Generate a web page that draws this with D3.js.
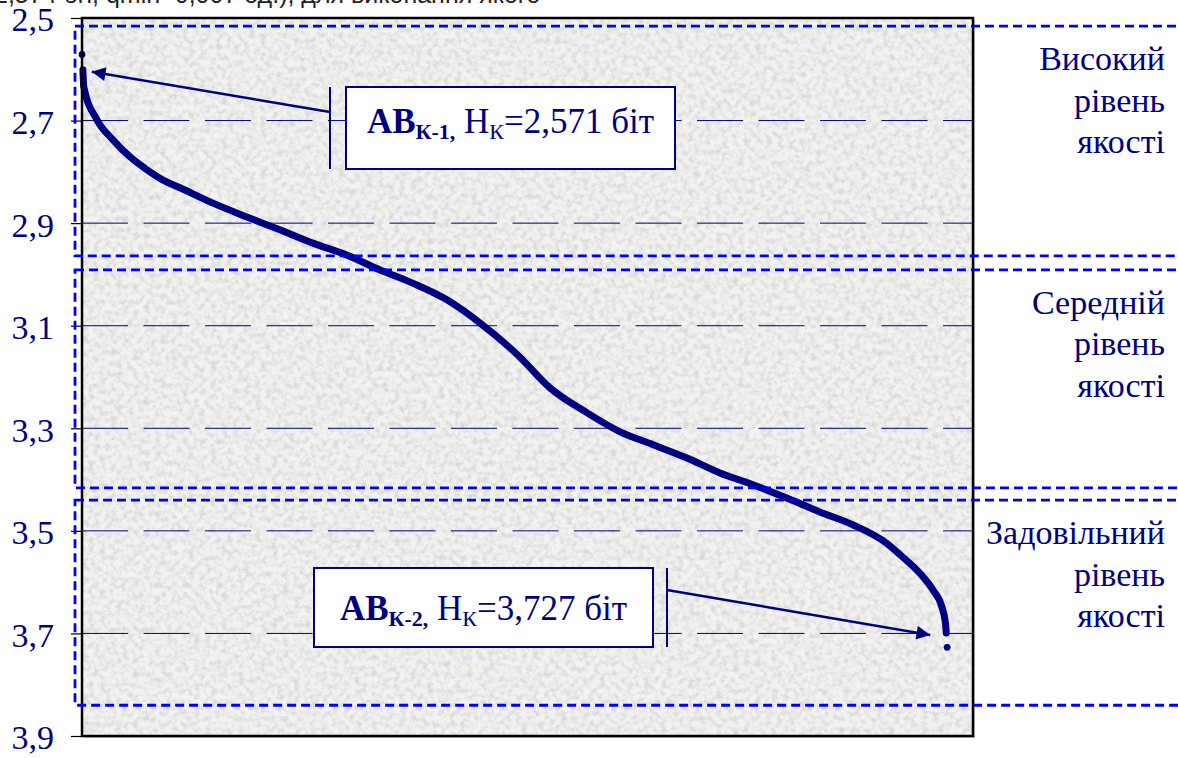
<!doctype html>
<html lang="uk">
<head>
    <meta charset="utf-8">
    <title>Рівні якості</title>
    <script src="https://cdnjs.cloudflare.com/ajax/libs/d3/7.8.5/d3.min.js" type="text/JavaScript"></script>
    <style>
        body { margin: 0; background: #fff; }
        svg { display: block; }
    </style>
</head>
<body>
<div id="chart"></div>
<script>

    // curve: rank (0..1000 across the plot) and value, біт
    const ranks = [0, 1, 2, 17, 35, 54, 73, 91, 110, 147, 185, 222, 259, 297, 334, 371, 410, 447, 489, 525,
        567, 604, 641, 679, 716, 753, 791, 828, 865, 903, 921, 940, 955, 965, 969, 970, 971];
    const values = [2.571, 2.601, 2.634, 2.699, 2.738, 2.771, 2.796, 2.816, 2.831, 2.861, 2.888, 2.913, 2.939, 2.962, 2.991, 3.017, 3.050, 3.095, 3.157, 3.221,
        3.270, 3.307, 3.332, 3.358, 3.387, 3.410, 3.436, 3.463, 3.488, 3.524, 3.551, 3.582, 3.615, 3.648, 3.679, 3.699, 3.727];

    const yTicks = [2.5, 2.7, 2.9, 3.1, 3.3, 3.5, 3.7, 3.9];

    // quality bands (dashed blue boxes) and their names
    const levelBounds = [[2.516, 2.964], [2.991, 3.416], [3.440, 3.840]];
    const levelNames = [["Високий", "рівень", "якості"], ["Середній", "рівень", "якості"], ["Задовільний", "рівень", "якості"]];

    // callouts: label parts and the point the arrow goes to
    const calloutSub = ["К-1,", "К-2,"];
    const calloutValue = ["=2,571 біт", "=3,727 біт"];
    const calloutTarget = [[11, 2.605], [952, 3.703]];

    const width = 1178, height = 758;
    const navy = "#000080";
    const serif = "Liberation Serif";

    const x = d3.scaleLinear().domain([0, 1000]).range([82, 973]);
    const y = d3.scaleLinear().domain([2.5, 3.9]).range([18, 736]);

    const comma = d3.formatLocale({decimal: ",", thousands: " ", grouping: [3], currency: ["", ""]}).format(".1f");

    const svg = d3.select("#chart").append("svg")
        .attr("width", width)
        .attr("height", height);

    const defs = svg.append("defs");
    const noise = defs.append("filter").attr("id", "noise")
        .attr("x", 0).attr("y", 0).attr("width", "100%").attr("height", "100%");
    noise.append("feTurbulence")
        .attr("type", "fractalNoise")
        .attr("baseFrequency", 0.18)
        .attr("numOctaves", 4)
        .attr("seed", 7);
    noise.append("feColorMatrix")
        .attr("type", "matrix")
        .attr("values", "0 0 0 0 0.5  0 0 0 0 0.5  0 0 0 0 0.49  2.6 0 0 0 -1.05");

    defs.append("marker")
        .attr("id", "arrow")
        .attr("viewBox", "0 0 10 10")
        .attr("refX", 10).attr("refY", 5)
        .attr("markerWidth", 6.5).attr("markerHeight", 5.5)
        .attr("markerUnits", "strokeWidth")
        .attr("orient", "auto")
        .append("path")
        .attr("d", "M0,0L10,5L0,10z")
        .attr("fill", navy);

    // cut-off caption line at the very top
    svg.append("text")
        .attr("x", -6).attr("y", 3)
        .attr("font-family", "Liberation Sans")
        .attr("font-size", 25)
        .attr("fill", "#222")
        .text("2,574 біт, qmin=0,007 од.), для виконання якого");

    const x0 = x.range()[0], x1 = x.range()[1];
    const y0 = y.range()[0], y1 = y.range()[1];

    // plot area: shadow, paper, noise
    svg.append("rect")
        .attr("x", x0 + 2).attr("y", y0 + 2)
        .attr("width", x1 - x0).attr("height", y1 - y0)
        .attr("fill", "#c8c8c8");
    svg.append("rect")
        .attr("x", x0).attr("y", y0)
        .attr("width", x1 - x0).attr("height", y1 - y0)
        .attr("fill", "#f2f2f0");
    svg.append("rect")
        .attr("x", x0).attr("y", y0)
        .attr("width", x1 - x0).attr("height", y1 - y0)
        .attr("filter", "url(#noise)")
        .attr("opacity", 0.45);

    // gridlines
    svg.append("g")
        .selectAll("line")
        .data(yTicks.slice(1, -1))
        .join("line")
        .attr("x1", x0).attr("x2", x1)
        .attr("y1", d => y(d)).attr("y2", d => y(d))
        .attr("stroke", navy)
        .attr("stroke-width", 1)
        .attr("stroke-dasharray", "46,15.5");

    // curve
    const pts = ranks.map((r, i) => [r, values[i]]);
    const line = d3.line()
        .x(d => x(d[0]))
        .y(d => y(d[1]))
        .curve(d3.curveMonotoneX);

    svg.append("path")
        .datum(pts.slice(1, -1))
        .attr("d", line)
        .attr("fill", "none")
        .attr("stroke", navy)
        .attr("stroke-width", 7)
        .attr("stroke-linejoin", "round")
        .attr("stroke-linecap", "round");

    svg.append("g")
        .selectAll("circle")
        .data([pts[0], pts[pts.length - 1]])
        .join("circle")
        .attr("cx", d => x(d[0]))
        .attr("cy", d => y(d[1]))
        .attr("r", 3.4)
        .attr("fill", navy);

    // frame
    svg.append("rect")
        .attr("x", x0).attr("y", y0)
        .attr("width", x1 - x0).attr("height", y1 - y0)
        .attr("fill", "none")
        .attr("stroke", "#000")
        .attr("stroke-width", 2.5);

    // y axis
    const yAxis = svg.append("g")
        .attr("transform", `translate(${x0},0)`)
        .call(d3.axisLeft(y).tickValues(yTicks).tickSize(11).tickPadding(17).tickFormat(comma));
    yAxis.select(".domain").remove();
    yAxis.attr("font-family", serif).attr("font-size", 34);
    yAxis.selectAll(".tick line").attr("stroke", "#000").attr("stroke-width", 1.2);
    yAxis.selectAll(".tick text")
        .attr("fill", navy)
        .attr("dy", "0.38em");

    // quality bands
    const bands = svg.append("g");
    bands.selectAll("rect")
        .data(levelBounds)
        .join("rect")
        .attr("x", 75)
        .attr("y", d => y(d[0]))
        .attr("width", width + 20)
        .attr("height", d => y(d[1]) - y(d[0]))
        .attr("fill", "none")
        .attr("stroke", "#0000ff")
        .attr("stroke-width", 2.8)
        .attr("stroke-dasharray", "9,5");

    const names = svg.append("g")
        .attr("font-family", serif)
        .attr("font-size", 34)
        .attr("fill", navy)
        .attr("text-anchor", "end");
    levelNames.forEach((lines, i) => {
        const top = y(levelBounds[i][0]);
        lines.forEach((t, j) => {
            names.append("text")
                .attr("x", 1165)
                .attr("y", top + 44 + j * 41.5)
                .text(t);
        });
    });

    // callouts
    const boxes = [
        {bx: 346, by: 87, bw: 329, bh: 82, base: 46, bar: 330, from: 25},
        {bx: 314, by: 568, bw: 339, bh: 79, base: 52, bar: 667, from: 22}
    ];
    boxes.forEach((b, i) => {
        const g = svg.append("g");
        g.append("rect")
            .attr("x", b.bx).attr("y", b.by)
            .attr("width", b.bw).attr("height", b.bh)
            .attr("fill", "#fff")
            .attr("stroke", navy)
            .attr("stroke-width", 2);
        const t = g.append("text")
            .attr("x", b.bx + b.bw / 2)
            .attr("y", b.by + b.base)
            .attr("text-anchor", "middle")
            .attr("font-family", serif)
            .attr("font-size", 35)
            .attr("fill", navy);
        t.append("tspan").attr("font-weight", "bold").text("АВ");
        t.append("tspan").attr("font-weight", "bold").attr("font-size", 22).attr("dy", 6).text(calloutSub[i]);
        t.append("tspan").attr("dy", -6).text(" Н");
        t.append("tspan").attr("font-size", 22).attr("dy", 6).text("К");
        t.append("tspan").attr("dy", -6).text(calloutValue[i]);

        g.append("line")
            .attr("x1", b.bar).attr("x2", b.bar)
            .attr("y1", b.by).attr("y2", b.by + b.bh)
            .attr("stroke", navy)
            .attr("stroke-width", 2);
        g.append("line")
            .attr("x1", b.bar).attr("y1", b.by + b.from)
            .attr("x2", x(calloutTarget[i][0]))
            .attr("y2", y(calloutTarget[i][1]))
            .attr("stroke", navy)
            .attr("stroke-width", 2.5)
            .attr("marker-end", "url(#arrow)");
    });

</script>
</body>
</html>
